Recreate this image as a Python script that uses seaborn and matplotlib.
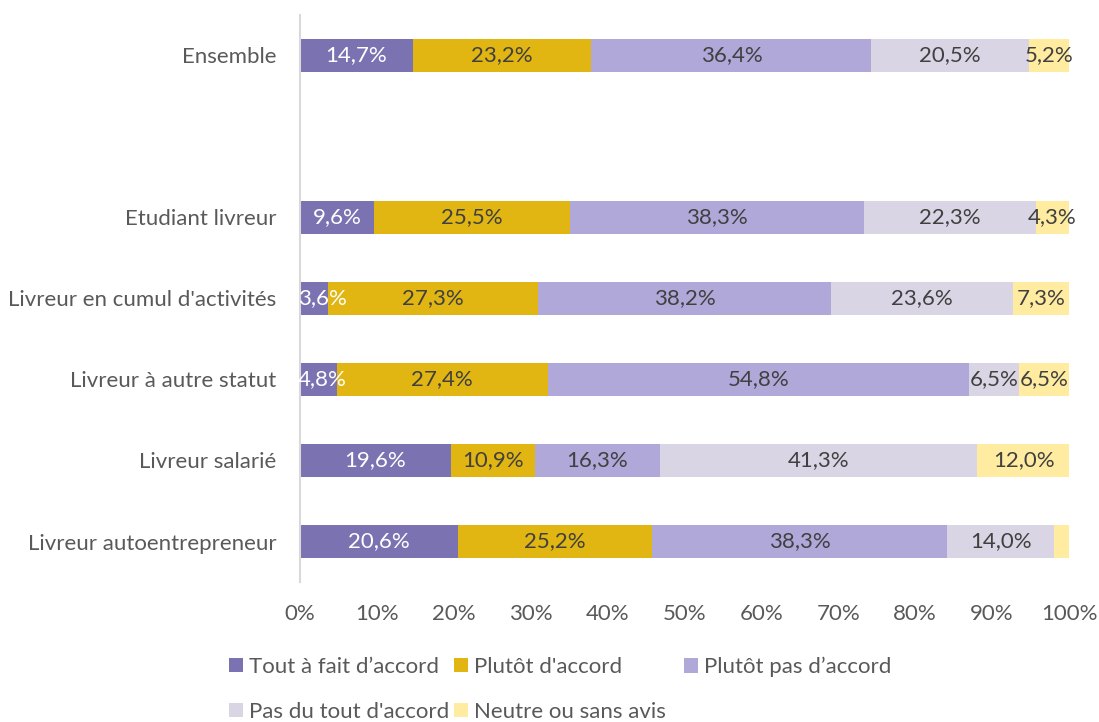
import matplotlib
matplotlib.use("Agg")
import matplotlib.pyplot as plt
import seaborn as sns
import pandas as pd
import numpy as np
from matplotlib.patches import Patch

categories = ["Ensemble", " ", "Etudiant livreur", "Livreur en cumul d'activités",
              "Livreur à autre statut", "Livreur salarié", "Livreur autoentrepreneur"]
series = ["Tout à fait d’accord", "Plutôt d'accord", "Plutôt pas d’accord",
          "Pas du tout d'accord", "Neutre ou sans avis"]
tout_a_fait = [14.7, None, 9.6, 3.6, 4.8, 19.6, 20.6]
plutot = [23.2, None, 25.5, 27.3, 27.4, 10.9, 25.2]
plutot_pas = [36.4, None, 38.3, 38.2, 54.8, 16.3, 38.3]
pas_du_tout = [20.5, None, 22.3, 23.6, 6.5, 41.3, 14.0]
neutre = [5.2, None, 4.3, 7.3, 6.5, 12.0, 1.9]
colors = ["#7B72B1", "#E1B512", "#AFA8D9", "#D9D5E4", "#FFECA0"]
label_colors = ["white", "#404040", "#404040", "#404040", "#404040"]
xticks = [0, 10, 20, 30, 40, 50, 60, 70, 80, 90, 100]

sns.set_style("white")
plt.rcParams["font.family"] = ["Lato", "DejaVu Sans"]
FS = 16

fig = plt.figure(figsize=(10.99, 7.22), dpi=100)
ax = fig.add_axes([300/1099, 1-582/722, 769/1099, 567/722])

vals = [tout_a_fait, plutot, plutot_pas, pas_du_tout, neutre]
rows = []
for ci, c in enumerate(categories):
    if tout_a_fait[ci] is None:
        continue
    cum = 0
    for si, s in enumerate(series):
        v = vals[si][ci]
        rows.append({"cat": c, "serie": s, "val": v, "left": cum, "right": cum + v})
        cum += v
df = pd.DataFrame(rows)

# draw cumulative layers from the last to the first
for si in range(len(series) - 1, -1, -1):
    sub = df[df["serie"] == series[si]]
    sns.barplot(data=sub, y="cat", x="right", order=categories, orient="h",
                color=colors[si], saturation=1, width=0.4, linewidth=0, ax=ax,
                errorbar=None)

# data labels
for _, r in df.iterrows():
    if r["val"] < 3:
        continue
    si = series.index(r["serie"])
    yi = categories.index(r["cat"])
    xc = (r["left"] + r["right"]) / 2
    if r["left"] == 0 and r["val"] < 6:
        xc = 2.9
    ax.text(xc, yi, f"{r['val']:.1f}%".replace(".", ","), ha="center", va="center",
            color=label_colors[si], fontsize=FS)

ax.set_xlim(0, 100)
ax.set_ylim(6.5, -0.5)
ax.set_xticks(xticks)
ax.set_xticklabels([f"{t}%" for t in xticks])
ax.set_xlabel("")
ax.set_ylabel("")
ax.tick_params(axis="both", length=0, colors="#595959", labelsize=FS)
ax.tick_params(axis="x", pad=16)
ax.tick_params(axis="y", pad=17)
for s in ["top", "right", "bottom"]:
    ax.spines[s].set_visible(False)
ax.spines["left"].set_color("#D9D9D9")
ax.spines["left"].set_linewidth(1.5)

# legend entries placed like the reference (3 + 2 layout)
positions = [(229, 667), (454, 667), (684, 667), (229, 712), (454, 712)]
for si, (px, py) in enumerate(positions):
    leg = fig.legend([Patch(facecolor=colors[si], edgecolor="none")], [series[si]],
                     loc="center left", bbox_to_anchor=(px/1099, 1-py/722),
                     frameon=False, fontsize=FS, handlelength=0.62, handleheight=0.62,
                     handletextpad=0.3, borderaxespad=0, borderpad=0)
    for t in leg.get_texts():
        t.set_color("#595959")

fig.savefig("out.png", dpi=100)
